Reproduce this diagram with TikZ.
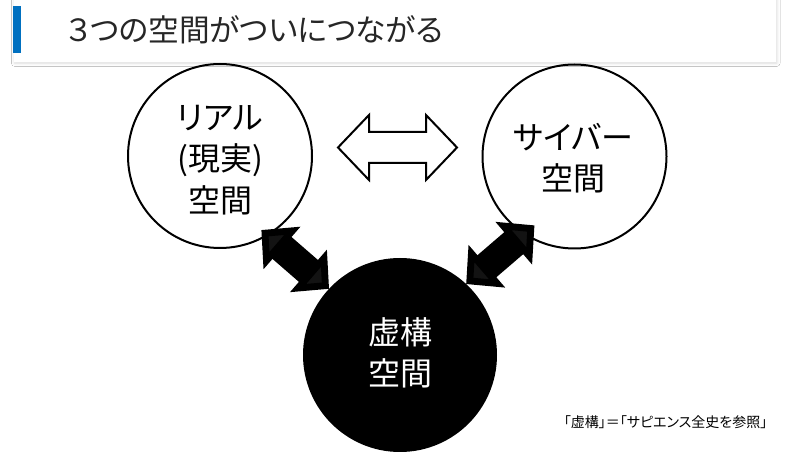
\documentclass[tikz,border=0pt]{standalone}
\usepackage{fontspec}
\setmainfont[RawFeature=+palt]{Noto Sans CJK JP}
\usepackage{xcolor}
\usetikzlibrary{arrows.meta,shadows.blur}
\definecolor{titleblue}{RGB}{0,112,192}
\tikzset{
	space/.style={circle, draw, line width=1.5pt, minimum size=138pt, inner sep=0pt},
	fiction/.style={space, fill=black, minimum size=144pt},
	spacetext/.style={align=center, inner sep=0pt, font=\fontsize{24}{31}\selectfont},
	link/.style={
			line width=21.75pt,
			{Triangle[length=20.5pt,width=41pt]}-{Triangle[length=20.5pt,width=41pt]}
		}
}

\begin{document}
\begin{tikzpicture}[x=0.75pt, y=-0.75pt]
        \useasboundingbox (0,0) rectangle (800,452);
        \clip (0,0) rectangle (800,452);
        \fill [white] (0,0) rectangle (800,452);
        % title bar
        \fill [white, blur shadow={shadow xshift=0.6pt, shadow yshift=-0.8pt, shadow blur radius=2.5pt, shadow opacity=15}] (14,-10) rectangle (776,62);
        \fill [titleblue] (13,6) rectangle (21,53);
        \node [anchor=west, font=\fontsize{23}{28}\selectfont, text=black!85] (title) at (62,30) {３つの空間がついにつながる};
        % the three spaces
        \node [space] (real) at (220,156) {};
        \node [spacetext] (realtext) at (220,160) {リアル\\(現実)\\空間};
        \node [space] (cyber) at (574.5,156.5) {};
        \node [spacetext] (cybertext) at (573,158) {サイバー\\空間};
        \node [fiction] (fiction) at (400,355) {};
        \node [spacetext, text=white] (fictiontext) at (400,353) {虚構\\空間};
        % white double arrow
        \coordinate (mutual) at (397.5,147.5);
        \draw [line width=1.5pt, line join=miter] (mutual) ++(-59.5,0) -- ++(31,-32.5) -- ++(0,17) -- ++(57,0) -- ++(0,-17) -- ++(31,32.5) -- ++(-31,32.5) -- ++(0,-17) -- ++(-57,0) -- ++(0,17) -- cycle;
        % black links
        \draw [link, shorten <=-6.5pt] (real.-59) -- (fiction.137);
        \draw [link, shorten <=-10.5pt] (cyber.237) -- (fiction.47);
        \node [anchor=east, font=\fontsize{10.5}{12}\selectfont] (note) at (772,422) {「虚構」＝「サピエンス全史を参照」};
\end{tikzpicture}
\end{document}
